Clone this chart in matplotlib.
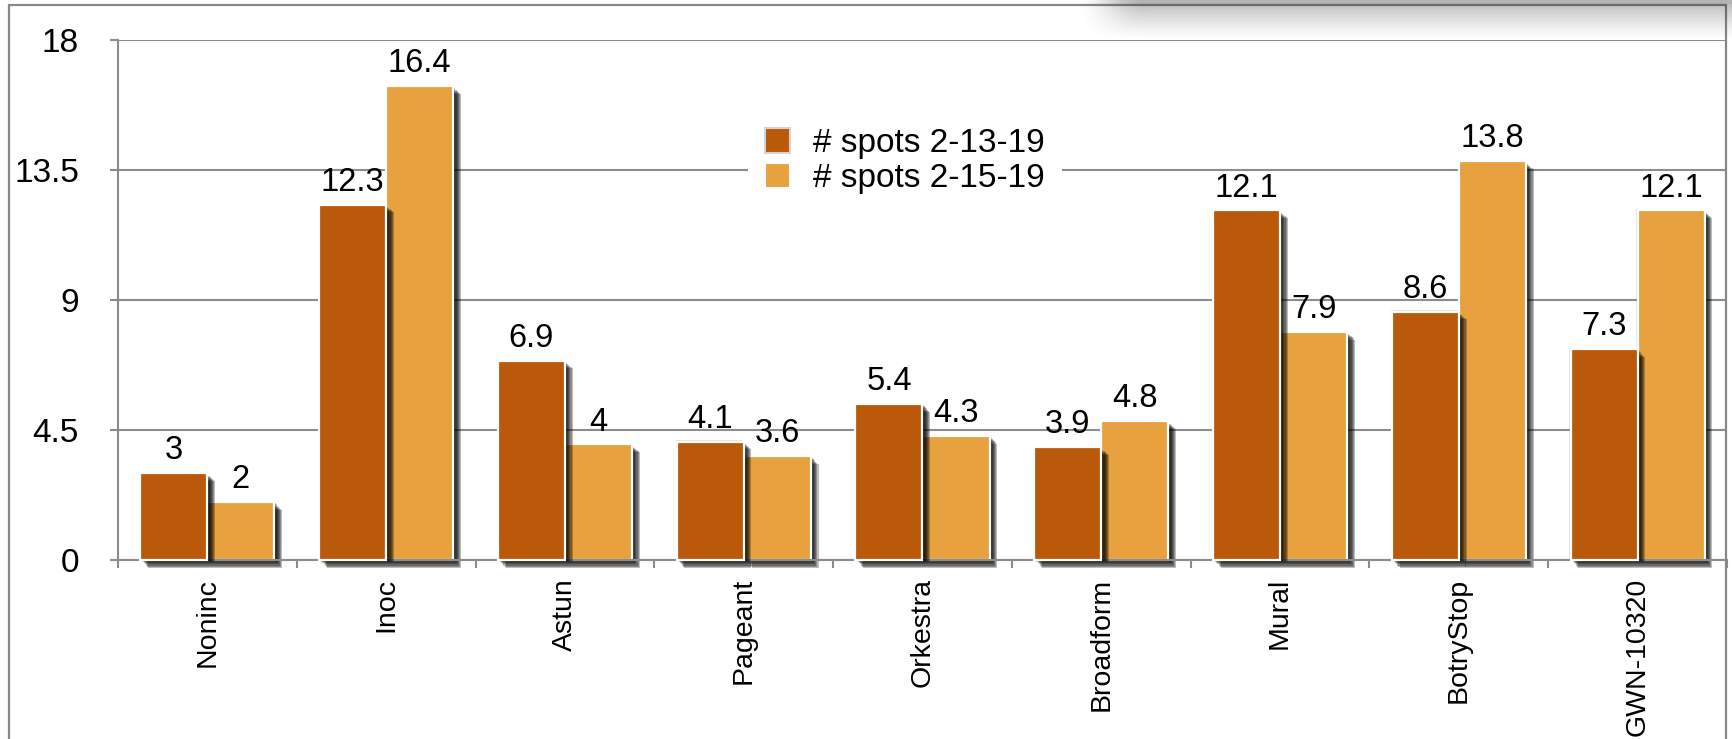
import numpy as np
import matplotlib
matplotlib.use('Agg')
import matplotlib.pyplot as plt
from matplotlib.patches import Patch
from matplotlib.lines import Line2D
import matplotlib.patheffects as pe

categories = ['Noninc', 'Inoc', 'Astun', 'Pageant', 'Orkestra', 'Broadform',
              'Mural', 'BotryStop', 'GWN-10320']
spots_2_13 = [3, 12.3, 6.9, 4.1, 5.4, 3.9, 12.1, 8.6, 7.3]
spots_2_15 = [2, 16.4, 4, 3.6, 4.3, 4.8, 7.9, 13.8, 12.1]
labels_2_13 = ['3', '12.3', '6.9', '4.1', '5.4', '3.9', '12.1', '8.6', '7.3']
labels_2_15 = ['2', '16.4', '4', '3.6', '4.3', '4.8', '7.9', '13.8', '12.1']
series_names = ['# spots 2-13-19', '# spots 2-15-19']
y_ticks = [0, 4.5, 9, 13.5, 18]
y_tick_labels = ['0', '4.5', '9', '13.5', '18']

DARK = '#BA5909'
LIGHT = '#E7A23F'
GRID = '#8c8c8c'

plt.rcParams['font.family'] = ['Liberation Sans', 'DejaVu Sans']

W, H = 1733, 739
fig = plt.figure(figsize=(W / 100, H / 100), dpi=100)
fig.patch.set_facecolor('white')

ax = fig.add_axes([118 / W, 1 - 560 / H, (1727 - 118) / W, 520 / H])
ax.patch.set_visible(False)

x = np.arange(len(categories))
bw = 0.375
shadow = ([pe.SimplePatchShadow(offset=(-0.8, 0.8), shadow_rgbFace='#999999', alpha=0.25)] +
          [pe.SimplePatchShadow(offset=(d, -d), shadow_rgbFace='black', alpha=0.26)
           for d in (0.8, 1.6, 2.4, 3.2, 4.0, 4.8, 5.6)] + [pe.Normal()])

bars2 = ax.bar(x + bw / 2, spots_2_15, width=bw, color=LIGHT, edgecolor='white',
               linewidth=1.6, zorder=2, clip_on=False, path_effects=shadow)
bars1 = ax.bar(x - bw / 2, spots_2_13, width=bw, color=DARK, edgecolor='white',
               linewidth=1.6, zorder=3, clip_on=False, path_effects=shadow)

for xi, v, t in zip(x - bw / 2, spots_2_13, labels_2_13):
    ax.annotate(t, (xi, v), xytext=(0, 10), textcoords='offset points',
                ha='center', va='baseline', fontsize=23.5, zorder=6)
for xi, v, t in zip(x + bw / 2, spots_2_15, labels_2_15):
    ax.annotate(t, (xi, v), xytext=(0, 10), textcoords='offset points',
                ha='center', va='baseline', fontsize=23.5, zorder=6)

ax.set_xlim(-0.5, len(categories) - 0.5)
ax.set_ylim(0, 18)
ax.set_yticks(y_ticks)
ax.set_yticklabels(y_tick_labels, fontsize=24)
ax.set_xticks(x)
ax.set_xticklabels(categories, rotation=90, fontsize=20.5)
ax.set_xticks(np.arange(-0.5, len(categories), 1), minor=True)
ax.tick_params(axis='x', which='major', length=0, pad=13)
ax.tick_params(axis='x', which='minor', length=6, width=1.5, color=GRID, direction='out')
ax.tick_params(axis='y', which='major', length=6, width=1.5, color=GRID, direction='out', pad=22)
ax.yaxis.grid(True, color=GRID, linewidth=1.5)
ax.set_axisbelow(True)
for s in ('top', 'right'):
    ax.spines[s].set_visible(False)
for s in ('left', 'bottom'):
    ax.spines[s].set_color(GRID)
    ax.spines[s].set_linewidth(1.5)

handles = [Patch(facecolor=DARK, edgecolor='#d4d4d4', linewidth=1.5),
           Patch(facecolor=LIGHT, edgecolor='white', linewidth=1.5)]
leg = ax.legend(handles, series_names, loc='center',
                bbox_to_anchor=(905 / W, 1 - 161 / H), bbox_transform=fig.transFigure,
                fontsize=24, frameon=True, facecolor='white', edgecolor='none',
                framealpha=1, fancybox=False, handlelength=0.75, handleheight=0.75,
                handletextpad=0.7, labelspacing=0.12, borderpad=0.5)
leg.set_zorder(5)

def fx(px):
    return px / W

def fy(py):
    return 1 - py / H

fig.add_artist(Line2D([fx(9), fx(9), fx(1726), fx(1726)],
                      [fy(739), fy(5), fy(5), fy(739)],
                      transform=fig.transFigure, color='#888888', linewidth=1.6,
                      solid_joinstyle='miter', zorder=1))

# shadow band at the top right
bh = 45
yy, xx = np.mgrid[0:bh, 0:W].astype(float)
shade = np.zeros_like(yy)
shade[yy < 4] = 0.30
shade[(yy >= 4) & (yy < 7)] = 0.22
m = (yy >= 7) & (yy < 39)
shade[m] = 0.22 * ((39 - yy[m]) / 32) ** 1.2
t = np.clip((xx - 1075) / 70, 0, 1)
fade = t * t * (3 - 2 * t)
d = shade * fade
right = xx > 1728
d[right] = np.maximum(d[right], 0.30 * np.clip(1 - yy[right] / 30, 0, 1))
img = np.zeros((bh, W, 4))
img[..., 3] = d
fig.figimage(img, xo=0, yo=H - bh, origin='upper', zorder=10)

fig.savefig('out.png', dpi=100)
